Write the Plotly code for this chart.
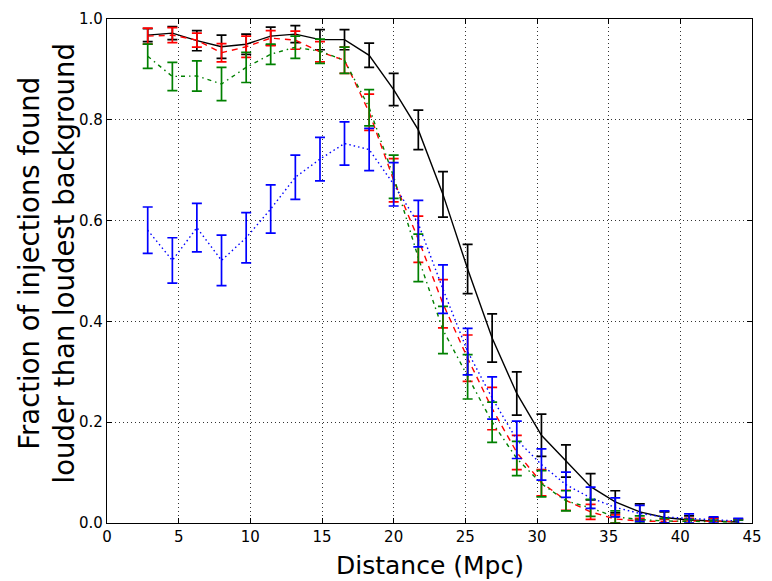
import plotly.graph_objects as go

distance = [2.84, 4.56, 6.27, 7.99, 9.71, 11.42, 13.14, 14.86, 16.57, 18.29,
            20.00, 21.72, 23.44, 25.16, 26.87, 28.59, 30.31, 32.02, 33.74,
            35.46, 37.17, 38.89, 40.61, 42.32, 44.04]

black_y = [0.968, 0.972, 0.957, 0.945, 0.950, 0.966, 0.970, 0.959, 0.959, 0.928,
           0.860, 0.780, 0.652, 0.504, 0.367, 0.257, 0.174, 0.123, 0.072, 0.042,
           0.022, 0.011, 0.006, 0.004, 0.002]
black_err = [0.013, 0.013, 0.020, 0.023, 0.020, 0.018, 0.017, 0.020, 0.020, 0.024,
             0.032, 0.039, 0.045, 0.049, 0.048, 0.043, 0.042, 0.032, 0.026, 0.022,
             0.016, 0.011, 0.008, 0.006, 0.004]

red_y = [0.966, 0.968, 0.958, 0.933, 0.945, 0.962, 0.958, 0.935, 0.918, 0.815,
         0.680, 0.563, 0.435, 0.327, 0.227, 0.140, 0.080, 0.045, 0.022, 0.008,
         0.004, 0.003, 0.004, 0.004, 0.003]
red_err = [0.016, 0.015, 0.014, 0.018, 0.021, 0.015, 0.018, 0.020, 0.026, 0.036,
           0.043, 0.046, 0.048, 0.046, 0.042, 0.034, 0.026, 0.020, 0.015, 0.008,
           0.005, 0.004, 0.005, 0.005, 0.005]

green_y = [0.926, 0.886, 0.887, 0.871, 0.904, 0.930, 0.944, 0.936, 0.918, 0.824,
           0.687, 0.526, 0.383, 0.290, 0.200, 0.128, 0.078, 0.044, 0.030, 0.012,
           0.007, 0.004, 0.003, 0.002, 0.002]
green_err = [0.024, 0.028, 0.030, 0.033, 0.030, 0.020, 0.022, 0.024, 0.026, 0.036,
             0.043, 0.047, 0.047, 0.044, 0.040, 0.034, 0.026, 0.020, 0.017, 0.012,
             0.007, 0.005, 0.004, 0.004, 0.004]

blue_y = [0.581, 0.521, 0.586, 0.521, 0.566, 0.623, 0.686, 0.722, 0.753, 0.741,
          0.672, 0.594, 0.464, 0.340, 0.248, 0.165, 0.116, 0.076, 0.050, 0.031,
          0.019, 0.012, 0.009, 0.006, 0.004]
blue_err = [0.046, 0.045, 0.048, 0.050, 0.050, 0.048, 0.044, 0.043, 0.043, 0.042,
            0.043, 0.046, 0.048, 0.046, 0.042, 0.037, 0.031, 0.025, 0.021, 0.019,
            0.016, 0.012, 0.009, 0.006, 0.005]

x_ticks = [0, 5, 10, 15, 20, 25, 30, 35, 40, 45]
y_ticks = [0.0, 0.2, 0.4, 0.6, 0.8, 1.0]

series = [
    (black_y, black_err, "#000000", "solid"),
    (red_y, red_err, "#ff0000", "6px,5px"),
    (green_y, green_err, "#008000", "4px,4px,1.5px,4px"),
    (blue_y, blue_err, "#0000ff", "1.5px,3px"),
]

fig = go.Figure()
for ys, errs, col, dash in series:
    fig.add_trace(go.Scatter(
        x=distance, y=ys, mode="lines",
        line=dict(color=col, width=1.4, dash=dash),
        error_y=dict(type="data", array=errs, visible=True, color=col,
                     thickness=1.7, width=5),
        showlegend=False,
    ))

axis_common = dict(
    showline=True, linecolor="black", linewidth=1.3, mirror="allticks",
    ticks="inside", ticklen=5, tickwidth=1, tickcolor="black",
    showgrid=True, gridcolor="#333333", griddash="1px,3px", gridwidth=1,
    zeroline=False,
    tickfont=dict(family="DejaVu Sans", size=15, color="black"),
)

fig.update_xaxes(range=[0, 45], tickvals=x_ticks, **axis_common)
fig.update_yaxes(range=[0, 1], tickvals=y_ticks, tickformat=".1f", **axis_common)

fig.update_layout(
    width=772, height=581,
    margin=dict(l=107, r=10, t=16, b=58),
    paper_bgcolor="white", plot_bgcolor="white",
    font=dict(family="DejaVu Sans", color="black"),
    annotations=[
        dict(text="Distance (Mpc)", xref="paper", yref="paper",
             x=0.5, y=-0.085, xanchor="center", yanchor="middle",
             showarrow=False, font=dict(size=25, family="DejaVu Sans")),
        dict(text="Fraction of injections found<br>louder than loudest background",
             xref="paper", yref="paper", x=-0.093, y=0.515,
             xanchor="center", yanchor="middle", textangle=-90,
             showarrow=False, font=dict(size=27.5, family="DejaVu Sans")),
    ],
)

fig.write_html("out.html")
